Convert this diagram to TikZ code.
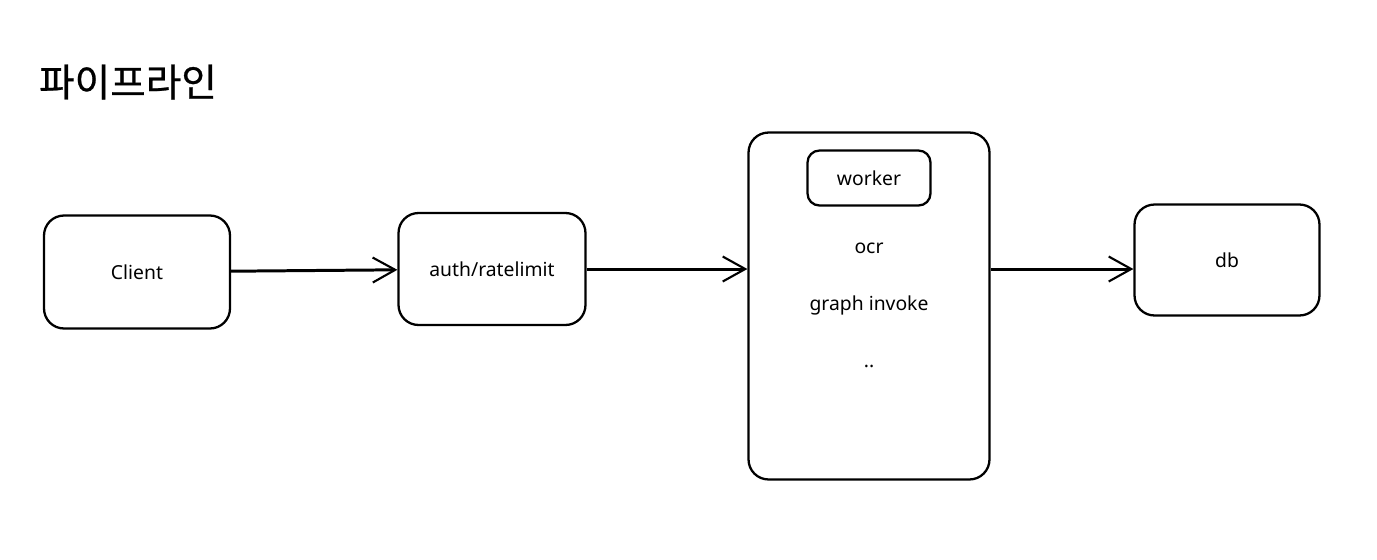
\documentclass[tikz,border=0pt]{standalone}
\usepackage{fontspec}
\setmainfont{Noto Sans}
\newfontfamily\krfont[FakeBold=0.6]{Noto Sans CJK KR}
\usetikzlibrary{arrows.meta}

\begin{document}
\begin{tikzpicture}[x=0.02cm, y=-0.02cm, line width=1.3pt,
    box/.style={draw, rounded corners=0.4cm, font=\fontsize{11}{13}\selectfont},
    flow/.style={-{Straight Barb[length=0.45cm, width=0.5cm, line width=1.2pt]}, line width=1.7pt}]
  \useasboundingbox (0,0) rectangle (1377,559);

  \node[font=\krfont\fontsize{22}{26}\selectfont] (title) at (128,82) {파이프라인};

  \node[box, minimum width=3.72cm, minimum height=2.26cm] (client) at (137,272) {Client};
  \node[box, minimum width=3.74cm, minimum height=2.24cm] (auth) at (492,269) {auth/ratelimit};
  \node[box, minimum width=4.82cm, minimum height=6.94cm] (pipe) at (869,306) {};
  \node[box, rounded corners=0.24cm, minimum width=2.46cm, minimum height=1.1cm] (worker) at (869,178) {worker};
  \node[font=\fontsize{11}{13}\selectfont] (ocr) at (869,248) {ocr};
  \node[font=\fontsize{11}{13}\selectfont] (graph) at (869,305) {graph invoke};
  \node[font=\fontsize{11}{13}\selectfont] (dots) at (869,366) {..};
  \node[box, minimum width=3.7cm, minimum height=2.22cm] (db) at (1227,260) {db};

  \draw[flow] (client) -- (auth);
  \draw[flow] (auth.east) -- (pipe.west |- auth.east);
  \draw[flow] (pipe.east |- auth.east) -- (db.west |- auth.east);
\end{tikzpicture}
\end{document}
